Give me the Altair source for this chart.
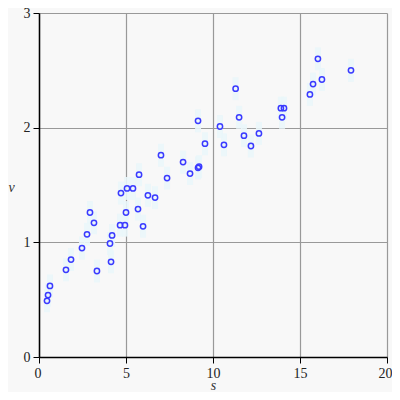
import altair as alt
import pandas as pd

s = [0.46, 0.52, 0.63, 1.55, 1.84, 2.47, 2.76, 2.93, 3.16, 3.33, 4.08, 4.14, 4.2, 4.66, 4.94,
     5.0, 5.06, 5.4, 5.69, 5.75, 4.71, 5.98, 6.26, 6.67, 7.01, 7.36, 8.28, 8.68, 9.14, 9.2,
     9.14, 9.54, 10.4, 10.63, 11.3, 11.5, 11.78, 12.18, 12.64, 13.9, 14.08, 13.97, 15.57,
     15.75, 16.03, 16.26, 17.93]
v = [0.49, 0.54, 0.62, 0.76, 0.85, 0.95, 1.07, 1.26, 1.17, 0.75, 0.99, 0.83, 1.06, 1.15, 1.15,
     1.26, 1.47, 1.47, 1.29, 1.59, 1.43, 1.14, 1.41, 1.39, 1.76, 1.56, 1.70, 1.60, 1.65, 1.66,
     2.06, 1.86, 2.01, 1.85, 2.34, 2.09, 1.93, 1.84, 1.95, 2.17, 2.17, 2.09, 2.29,
     2.38, 2.60, 2.42, 2.50]
err = [0.1] * len(s)

df = pd.DataFrame({"s": s, "v": v, "err": err})

font = "Liberation Serif"
xs = alt.Scale(domain=[0, 20], nice=False, zero=False)
ys = alt.Scale(domain=[0, 3], nice=False, zero=False)

base = alt.Chart(df)

bars = base.transform_calculate(
    lo="datum.v - datum.err", hi="datum.v + datum.err"
).mark_rule(strokeWidth=6, color="#eaf6f9", opacity=0.9).encode(
    x=alt.X("s:Q", scale=xs),
    y=alt.Y("lo:Q", scale=ys),
    y2="hi:Q",
)

pts = base.mark_point(shape="circle", size=28, filled=False, strokeWidth=1.5,
                      color="#3a3aff", opacity=1).encode(
    x=alt.X("s:Q", scale=xs,
            axis=alt.Axis(values=[0, 5, 10, 15, 20], format="d", title="s",
                          titleFontStyle="italic",
                          titleFontWeight="normal", titleFont=font, titleFontSize=14,
                          titleColor="#333", titleY=28, titleBaseline="middle",
                          labelFont=font, labelFontSize=14, labelColor="#222",
                          labelFlush=True, labelFlushOffset=5,
                          tickColor="black", tickSize=6, labelPadding=3,
                          domainColor="black", domainWidth=1.5,
                          gridColor="#999", gridWidth=1.2, gridOpacity=1)),
    y=alt.Y("v:Q", scale=ys,
            axis=alt.Axis(values=[0, 1, 2, 3], format="d", title="v",
                          titleFontStyle="italic",
                          titleFontWeight="normal", titleFont=font, titleFontSize=14,
                          titleColor="#333", titleAngle=0, titleX=-28, titleY=174,
                          titleAlign="center", titleBaseline="middle",
                          labelFont=font, labelFontSize=14, labelColor="#222",
                          labelFlush=False,
                          tickColor="black", tickSize=6, labelPadding=3,
                          domainColor="black", domainWidth=1.5,
                          gridColor="#999", gridWidth=1.2, gridOpacity=1)),
)

chart = (bars + pts).properties(
    width=348, height=344,
    autosize=alt.AutoSizeParams(type="none"),
    padding={"left": 31, "top": 5, "right": 5, "bottom": 35},
    background="#f8f8f8",
).configure_view(stroke=None, fill="#f8f8f8")

chart.save("out.html", embed_options={"renderer": "svg", "actions": False})
